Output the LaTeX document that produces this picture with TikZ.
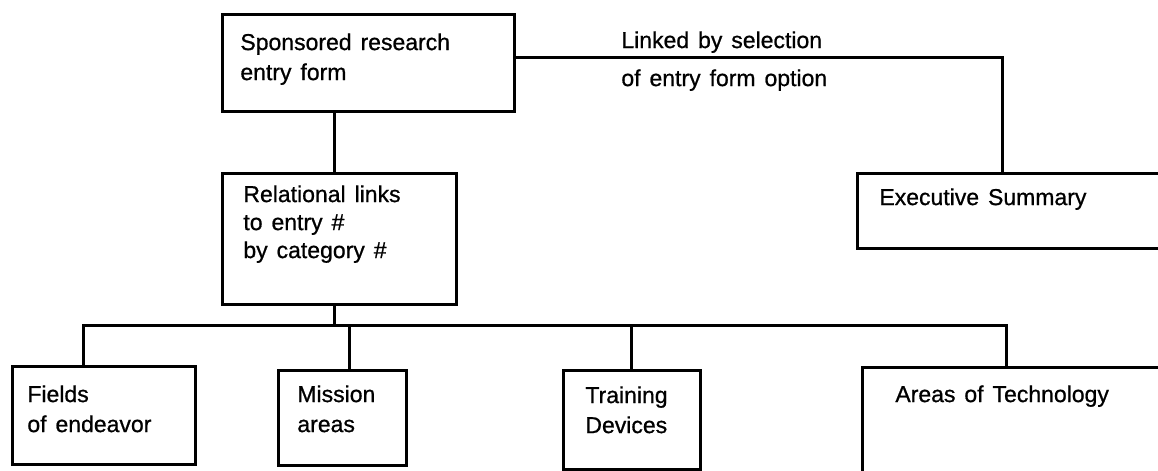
\documentclass[tikz,border=0pt]{standalone}
\usepackage{fontspec}
\setmainfont{Liberation Sans}[WordSpace=1.4, FakeBold=0.8]
\usetikzlibrary{positioning}

\tikzset{
  box/.style={draw, line width=1.5pt, inner sep=0pt},
  boxtext/.style={anchor=north west, align=left, inner sep=0pt,
    font=\fontsize{11.5}{15}\selectfont},
  link/.style={line width=1.5pt}
}

\begin{document}
\begin{tikzpicture}[x=0.5pt, y=-0.5pt]
  \useasboundingbox (0,0) rectangle (1158,471);

  % boxes
  \node[box, minimum width=146pt, minimum height=48.5pt] (form) at (368,62.5) {};
  \node[box, minimum width=117pt, minimum height=65.5pt] (rel) at (339,238.5) {};
  \node[box, minimum width=154pt, minimum height=37.5pt] (exec) at (1011,210.5) {};
  \node[box, minimum width=91.5pt, minimum height=49pt] (fields) at (103.5,415.5) {};
  \node[box, minimum width=64pt, minimum height=47.5pt] (mission) at (342,417.5) {};
  \node[box, minimum width=68.5pt, minimum height=49.5pt] (training) at (631.5,419.5) {};
  \node[box, minimum width=151.5pt, minimum height=53.5pt] (areas) at (1013.5,420.5) {};

  % texts
  \node[boxtext] (formtext) at (240,33) {Sponsored research\\entry form};
  \node[boxtext, font=\fontsize{11.5}{14}\selectfont] (reltext) at (243,185) {Relational links\\to entry \#\\by category \#};
  \node[boxtext] (exectext) at (879,188) {Executive Summary};
  \node[boxtext] (fieldstext) at (27,385) {Fields\\of endeavor};
  \node[boxtext] (missiontext) at (297,385) {Mission\\areas};
  \node[boxtext] (trainingtext) at (585,386) {Training\\Devices};
  \node[boxtext] (areastext) at (895,385) {Areas of Technology};
  \node[boxtext] (linka) at (621,31) {Linked by selection};
  \node[boxtext] (linkb) at (621,69) {of entry form option};

  % connectors
  \coordinate (trunk) at (334,325);
  \coordinate (busL) at (83,325);
  \coordinate (busR) at (1006,325);
  \draw[link] ([yshift=2.75pt]form.east) -| ([xshift=-4.5pt]exec.north);
  \draw[link] (form.south -| trunk) -- (rel.north -| trunk);
  \draw[link] (rel.south -| trunk) -- (trunk);
  \draw[link] (fields.north -| busL) -- (busL) -- (busR) -- (areas.north -| busR);
  \draw[link] ([xshift=3.5pt]mission.north) -- ([xshift=3.5pt]mission.north |- busL);
  \draw[link] (training.north) -- (training.north |- busL);
\end{tikzpicture}
\end{document}
